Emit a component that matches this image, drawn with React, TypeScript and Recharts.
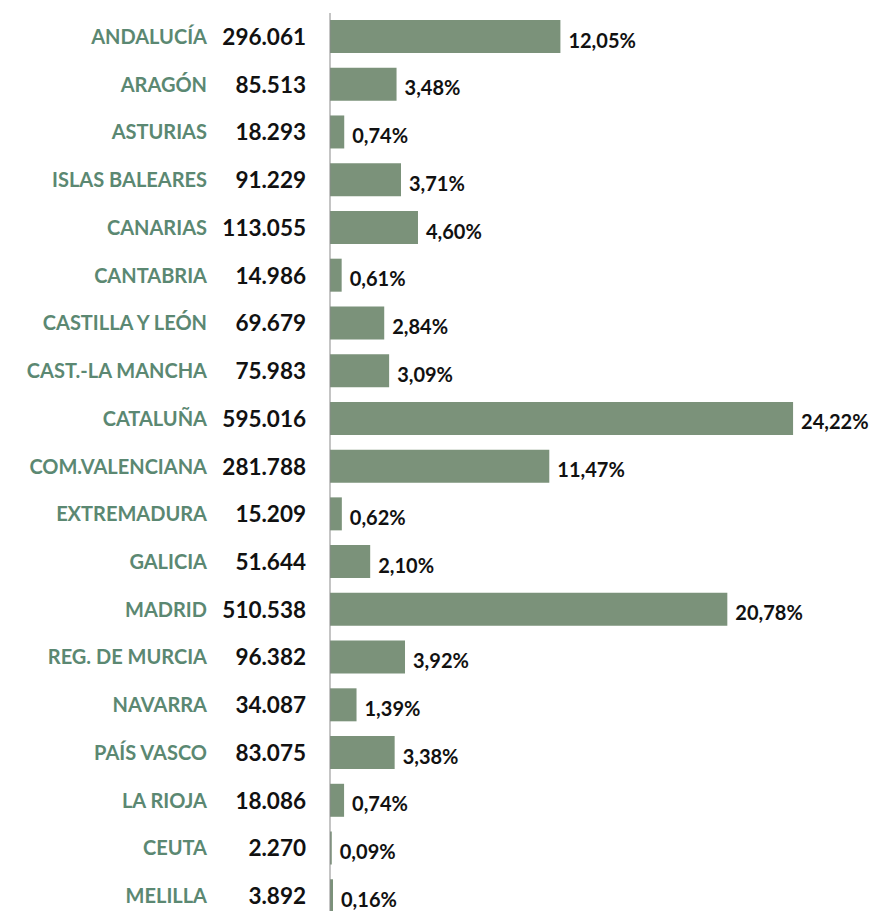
import { Bar, BarChart, LabelList, XAxis, YAxis } from 'recharts'

const regions = [
  'ANDALUCÍA', 'ARAGÓN', 'ASTURIAS', 'ISLAS BALEARES', 'CANARIAS', 'CANTABRIA',
  'CASTILLA Y LEÓN', 'CAST.-LA MANCHA', 'CATALUÑA', 'COM.VALENCIANA', 'EXTREMADURA',
  'GALICIA', 'MADRID', 'REG. DE MURCIA', 'NAVARRA', 'PAÍS VASCO', 'LA RIOJA', 'CEUTA', 'MELILLA',
]

const totals = [
  296061, 85513, 18293, 91229, 113055, 14986, 69679, 75983, 595016, 281788,
  15209, 51644, 510538, 96382, 34087, 83075, 18086, 2270, 3892,
]

const shares = [
  '12,05%', '3,48%', '0,74%', '3,71%', '4,60%', '0,61%', '2,84%', '3,09%', '24,22%', '11,47%',
  '0,62%', '2,10%', '20,78%', '3,92%', '1,39%', '3,38%', '0,74%', '0,09%', '0,16%',
]

const data = regions.map((region, i) => ({ region, total: totals[i], share: shares[i] }))

const font = 'Lato, "Open Sans", sans-serif'

function formatNumber(value: number) {
  return new Intl.NumberFormat('de-DE').format(value)
}

function RegionTick({ y, payload }: { x?: number; y?: number; payload?: { value: string } }) {
  const name = payload?.value ?? ''
  const row = data.find((d) => d.region === name)
  return (
    <g>
      <text x={207} y={y} dy={7} textAnchor="end" fill="#5b8872" fontSize={20} fontWeight={700} fontFamily={font}>
        {name}
      </text>
      <text x={306} y={y} dy={8} textAnchor="end" fill="#111" fontSize={22.5} fontWeight={700} fontFamily={font}>
        {row ? formatNumber(row.total) : ''}
      </text>
    </g>
  )
}

export default function App() {
  return (
    <div style={{ position: 'fixed', left: 0, top: 0, width: 881, height: 911, overflow: 'hidden', background: '#fff' }}>
      <BarChart
        width={881}
        height={920}
        data={data}
        layout="vertical"
        margin={{ top: 13, right: 0, bottom: 0, left: 0 }}
        barCategoryGap="30%"
      >
        <XAxis type="number" domain={[0, 708000]} hide />
        <YAxis
          type="category"
          dataKey="region"
          width={330}
          axisLine={{ stroke: '#8a8a8a', strokeWidth: 1 }}
          tickLine={false}
          tick={<RegionTick />}
          interval={0}
        />
        <Bar dataKey="total" fill="#7b927a" barSize={33} isAnimationActive={false}>
          <LabelList
            dataKey="share"
            position="right"
            offset={8}
            fill="#111"
            fontSize={20}
            fontWeight={700}
            fontFamily={font}
            dy={4}
          />
        </Bar>
      </BarChart>
    </div>
  )
}
